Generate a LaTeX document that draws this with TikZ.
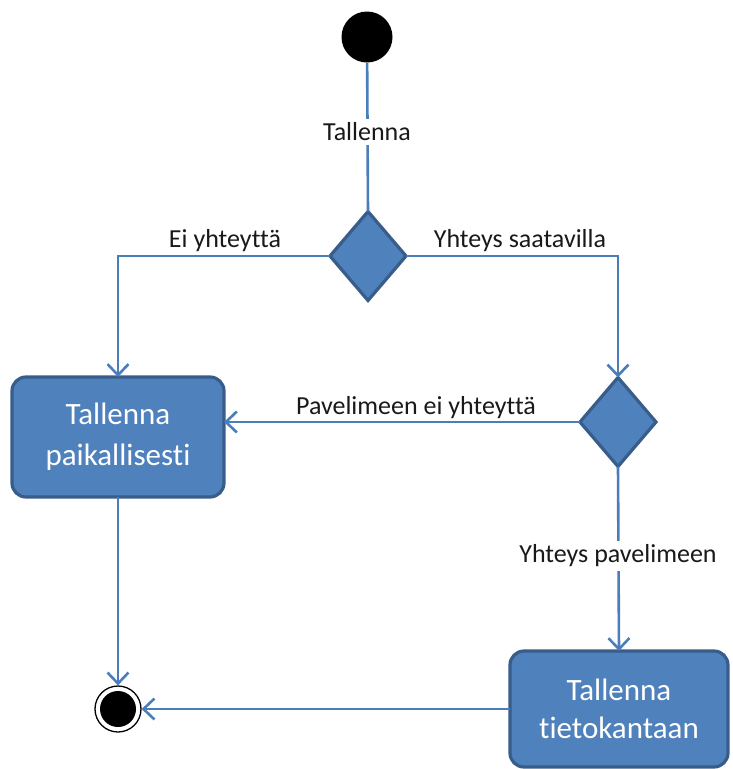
\documentclass[tikz,border=0pt]{standalone}
\usepackage{fontspec}
\setmainfont{Carlito}[Ligatures={NoCommon,NoRequired,NoContextual}]
\usetikzlibrary{shapes.geometric,arrows.meta,calc}
\definecolor{boxfill}{HTML}{4F81BD}
\definecolor{boxedge}{HTML}{385D8A}
\definecolor{flowcol}{HTML}{4A7EBB}
\tikzset{
  startnode/.style={circle,fill=black,minimum size=51pt,inner sep=0pt,outer sep=0pt},
  endnode/.style={circle,draw=black,line width=1.3pt,fill=white,minimum size=46pt,inner sep=0pt,outer sep=0.6pt,
    path picture={\fill[black] (path picture bounding box.center) circle (18pt);}},
  decision/.style={diamond,draw=boxedge,line width=3.2pt,fill=boxfill,minimum width=76pt,minimum height=89pt,inner sep=0pt,outer sep=0pt},
  action/.style={rectangle,rounded corners=14pt,draw=boxedge,line width=3.2pt,fill=boxfill,text=white,
    align=center,inner sep=0pt,outer sep=0pt},
  flow/.style={draw=flowcol,line width=2.6pt,-{Straight Barb[length=11pt,width=21pt,line width=2.6pt]}},
  plain/.style={draw=flowcol,line width=2.6pt},
  lbl/.style={font=\fontsize{26}{30}\selectfont,text=black!90,inner sep=2pt},
  lblw/.style={lbl,fill=white,inner sep=4pt},
}
\begin{document}
\begin{tikzpicture}[x=1pt,y=-1pt]
\useasboundingbox (0,0) rectangle (733,769);
% nodes
\node[startnode] (s) at (367,37) {};
\node[decision] (d1) at (368,256) {};
\node[decision] (d2) at (618,422) {};
\node[action,minimum width=212pt,minimum height=120pt,font=\fontsize{31}{41}\selectfont] (b1) at (118,437) {Tallenna\\paikallisesti};
\node[action,minimum width=218pt,minimum height=116pt,font=\fontsize{31}{38}\selectfont] (b2) at (619,709) {Tallenna\\tietokantaan};
\node[endnode] (f) at (118,709) {};
% connectors
\draw[plain] (s) -- (d1.north);
\node[lblw] (l1) at (367,132) {Tallenna};
\draw[flow] (d1.west) -| (b1.north);
\node[lbl,anchor=base] (l2) at (225,247) {Ei yhteyttä};
\draw[flow] (d1.east) -| (d2.north);
\node[lbl,anchor=base] (l3) at (520,247) {Yhteys saatavilla};
\draw[flow] (d2.west) -- (d2.west -| b1.east);
\node[lbl,anchor=base] (l4) at (416,414) {Pavelimeen ei yhteyttä};
\draw[flow] (d2.south) -- (b2.north);
\node[lblw] (l5) at (618,556) {Yhteys pavelimeen};
\draw[flow] (b1.south) -- (f.north);
\draw[flow] (b2.west) -- (f.east);
\end{tikzpicture}
\end{document}
